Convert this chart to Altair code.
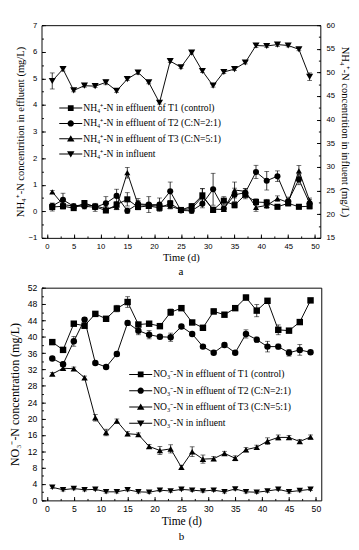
import altair as alt
import pandas as pd

days = [1, 3, 5, 7, 9, 11, 13, 15, 17, 19, 21, 23, 25, 27, 29, 31, 33, 35, 37, 39, 41, 43, 45, 47, 49]

# ---------- panel a (NH4+-N) ----------
a_names = ["T1", "T2", "T3"]
a_t1 = [0.16, 0.19, 0.12, 0.31, 0.17, 0.03, 0.25, 0.45, 0.16, 0.20, 0.13, 0.29, 0.05,
        0.19, 0.60, 0.05, 0.40, 0.23, 0.62, 0.35, 0.33, 0.17, 0.30, 0.17, 0.19]
a_t2 = [0.20, 0.43, 0.19, 0.19, 0.15, 0.30, 0.58, 0.02, 0.28, 0.25, 0.25, 0.75, 0.03,
        0.02, 0.28, 0.83, 0.10, 0.62, 0.70, 1.48, 1.15, 1.32, 0.38, 1.20, 0.30]
a_t3 = [0.73, 0.25, 0.20, 0.25, 0.20, 0.10, 0.16, 1.45, 0.25, 0.22, 0.20, 0.19, 0.06,
        0.10, 0.55, 0.08, 0.07, 0.80, 0.75, 0.15, 0.22, 0.48, 0.33, 1.52, 0.40]
a_t1_err = [0.15, 0.10, 0.08, 0.10, 0.08, 0.08, 0.12, 0.25, 0.10, 0.10, 0.10, 0.12, 0.06,
            0.10, 0.25, 0.10, 0.15, 0.10, 0.15, 0.12, 0.12, 0.08, 0.10, 0.08, 0.10]
a_t2_err = [0.10, 0.25, 0.08, 0.10, 0.15, 0.25, 0.25, 0.10, 0.20, 0.30, 0.25, 0.35, 0.05,
            0.10, 0.15, 0.60, 0.10, 0.25, 0.15, 0.25, 0.35, 0.20, 0.15, 0.20, 0.15]
a_t3_err = [0.05, 0.10, 0.08, 0.10, 0.08, 0.08, 0.10, 0.20, 0.15, 0.10, 0.10, 0.10, 0.05,
            0.08, 0.30, 0.08, 0.08, 0.30, 0.10, 0.15, 0.12, 0.10, 0.10, 0.20, 0.10]
a_inf = [48.2, 50.7, 46.2, 47.2, 47.1, 47.9, 46.1, 48.6, 50.0, 47.9, 43.6, 52.4, 51.1,
         54.2, 50.3, 47.2, 50.1, 50.7, 52.1, 55.7, 55.6, 55.9, 55.7, 54.9, 49.1]
a_inf_err = [1.7, 0.4, 0.3, 0.3, 0.3, 0.5, 0.3, 0.3, 0.4, 0.3, 0.3, 0.3, 0.3,
             0.3, 0.3, 0.3, 0.3, 0.3, 0.3, 0.4, 0.3, 0.4, 0.3, 0.3, 0.8]
a_legend = ["NH\u2084\u207a-N in effluent of T1 (control)",
            "NH\u2084\u207a-N in effluent of T2 (C:N=2:1)",
            "NH\u2084\u207a-N in effluent of T3 (C:N=5:1)",
            "NH\u2084\u207a-N in influent"]

# ---------- panel b (NO3--N) ----------
b_names = ["T1", "T2", "T3", "INF"]
b_t1 = [38.7, 36.8, 43.2, 42.7, 45.6, 44.4, 46.9, 48.5, 43.0, 43.2, 42.6, 46.0, 47.0,
        43.5, 42.2, 46.2, 45.4, 47.0, 49.6, 46.4, 48.8, 41.7, 41.5, 43.6, 48.9]
b_t2 = [34.7, 33.3, 38.9, 44.2, 33.6, 32.6, 35.8, 43.4, 41.5, 40.5, 40.0, 39.9, 42.5,
        40.7, 37.6, 36.1, 38.0, 36.1, 40.7, 39.3, 37.6, 37.6, 36.1, 36.8, 36.2]
b_t3 = [30.9, 32.3, 32.2, 30.0, 20.2, 16.6, 19.4, 16.3, 16.1, 13.2, 12.2, 12.6, 8.1,
        11.9, 10.1, 10.2, 11.5, 10.3, 12.4, 13.0, 14.5, 15.4, 15.4, 14.4, 15.5]
b_inf = [3.2, 2.6, 2.9, 2.6, 2.7, 2.1, 2.1, 2.6, 2.1, 2.0, 2.5, 2.3, 2.7,
         2.5, 2.3, 2.5, 2.1, 2.8, 2.1, 2.0, 2.3, 2.7, 2.1, 2.4, 2.7]
b_t1_err = [0.4, 0.4, 0.5, 0.5, 0.4, 0.4, 0.8, 1.3, 0.5, 0.4, 0.4, 0.8, 0.4,
            0.4, 0.4, 0.6, 0.4, 0.5, 0.6, 1.5, 0.5, 1.2, 0.4, 0.5, 0.4]
b_t2_err = [0.4, 0.5, 1.2, 0.5, 0.4, 0.4, 0.5, 0.5, 1.0, 1.0, 0.5, 1.0, 0.4,
            0.4, 0.4, 0.4, 0.5, 0.4, 1.0, 0.6, 1.3, 0.6, 0.8, 1.3, 0.4]
b_t3_err = [0.4, 0.4, 0.4, 0.4, 0.8, 0.8, 0.5, 0.5, 0.4, 0.5, 1.0, 1.0, 0.5,
            1.2, 1.0, 0.5, 0.5, 0.6, 0.5, 0.5, 0.8, 0.6, 0.5, 0.5, 0.5]
b_inf_err = [0.3, 0.3, 0.3, 0.3, 0.3, 0.3, 0.3, 0.3, 0.3, 0.3, 0.3, 0.3, 0.3,
             0.3, 0.3, 0.3, 0.3, 0.3, 0.3, 0.3, 0.3, 0.3, 0.3, 0.3, 0.3]
b_legend = ["NO\u2083\u207b-N in effluent of T1 (control)",
            "NO\u2083\u207b-N in effluent of T2 (C:N=2:1)",
            "NO\u2083\u207b-N in effluent of T3 (C:N=5:1)",
            "NO\u2083\u207b-N in influent"]

# axis tick positions
x_major = [0, 5, 10, 15, 20, 25, 30, 35, 40, 45, 50]
x_minor = [i * 2.5 for i in range(21)]
ya_major = [-1, 0, 1, 2, 3, 4, 5, 6, 7]
ya_minor = [-1 + 0.5 * i for i in range(17)]
yr_major = [15, 20, 25, 30, 35, 40, 45, 50, 55, 60]
yr_minor = [15 + 2.5 * i for i in range(19)]
yb_major = [4 * i for i in range(14)]
yb_minor = [2 * i for i in range(27)]


def long_df(names, vals, errs):
    rows = []
    for n, vs, es in zip(names, vals, errs):
        for d, v, e in zip(days, vs, es):
            rows.append({"day": d, "series": n, "value": v, "err": e})
    return pd.DataFrame(rows)


df_a = long_df(a_names, [a_t1, a_t2, a_t3], [a_t1_err, a_t2_err, a_t3_err])
df_ainf = long_df(["INF"], [a_inf], [a_inf_err])
df_b = long_df(b_names, [b_t1, b_t2, b_t3, b_inf], [b_t1_err, b_t2_err, b_t3_err, b_inf_err])

SERIF = "Liberation Serif"
SANS = "Liberation Sans"


def major_axis(values, title, orient, lp, tp, lfs=8, tfs=11):
    # inward ticks: shift the axis 4px into the plot and draw 4px ticks back to the frame
    return alt.Axis(values=values, format="d", offset=-4, tickSize=4, tickColor="black",
                    tickWidth=1, domain=False, grid=False, labelOverlap=False, orient=orient,
                    labelFont=SANS, labelFontSize=lfs, labelColor="black", labelPadding=lp,
                    title=title, titleFont=SERIF, titleFontSize=tfs, titleFontWeight="normal",
                    titleColor="black", titlePadding=tp)


def minor_axis(values, orient):
    return alt.Axis(values=values, offset=-2, tickSize=2, tickColor="black", tickWidth=1,
                    domain=False, grid=False, labels=False, title=None, orient=orient)


xscale = alt.Scale(domain=[-1, 51], nice=False, zero=False)


def make_panel(df, names, shapes, sizes, yscale, yaxis, xaxis, yminor, xminor):
    base = alt.Chart(df).transform_calculate(lo="datum.value - datum.err",
                                             hi="datum.value + datum.err")
    X0 = alt.X("day:Q", scale=xscale, axis=None)
    lines = base.mark_line(color="black", strokeWidth=1).encode(
        x=alt.X("day:Q", scale=xscale, axis=xaxis),
        y=alt.Y("value:Q", scale=yscale, axis=yaxis),
        detail="series:N")
    rules = base.mark_rule(color="black", strokeWidth=0.8).encode(
        x=X0, y=alt.Y("lo:Q", scale=yscale, axis=None), y2="hi:Q")
    cap_hi = base.mark_tick(color="black", orient="horizontal", size=5, thickness=0.8).encode(
        x=X0, y=alt.Y("hi:Q", scale=yscale, axis=None))
    cap_lo = base.mark_tick(color="black", orient="horizontal", size=5, thickness=0.8).encode(
        x=X0, y=alt.Y("lo:Q", scale=yscale, axis=None))
    if len(names) == 1:
        pts = base.mark_point(filled=True, opacity=1, color="black", shape=shapes[0],
                              size=sizes[0]).encode(
            x=X0, y=alt.Y("value:Q", scale=yscale, axis=None))
    else:
        pts = base.mark_point(filled=True, opacity=1, color="black").encode(
            x=X0, y=alt.Y("value:Q", scale=yscale, axis=None),
            shape=alt.Shape("series:N", scale=alt.Scale(domain=names, range=shapes), legend=None),
            size=alt.Size("series:N", scale=alt.Scale(domain=names, range=sizes), legend=None))
    minor = base.mark_point(opacity=0, size=1).encode(
        x=alt.X("day:Q", scale=xscale, axis=xminor),
        y=alt.Y("value:Q", scale=yscale, axis=yminor))
    res = {"y": "independent"}
    if xminor is not None:
        res["x"] = "independent"
    return alt.layer(lines, rules, cap_hi, cap_lo, pts, minor).resolve_axis(**res)


# legend symbols: line segment + marker, all filled, same winding
LINE = "M-1.6,-0.07L1.6,-0.07L1.6,0.07L-1.6,0.07Z"
P_SQ = LINE + "M-0.4,-0.4L0.4,-0.4L0.4,0.4L-0.4,0.4Z"
P_CI = LINE + "M-0.44,0A0.44,0.44,0,1,1,0.44,0A0.44,0.44,0,1,1,-0.44,0Z"
P_TU = LINE + "M0,-0.48L0.52,0.4L-0.52,0.4Z"
P_TD = LINE + "M0,0.48L-0.52,-0.4L0.52,-0.4Z"
legend_paths = [P_SQ, P_CI, P_TU, P_TD]


def legend_layer(labels, lx, ly, rowpad):
    df = pd.DataFrame({"label": labels})
    return alt.Chart(df).mark_point(filled=True, opacity=0, color="black", size=1).encode(
        shape=alt.Shape("label:N", sort=labels,
                        scale=alt.Scale(domain=labels, range=legend_paths),
                        legend=alt.Legend(title=None, orient="none", legendX=lx, legendY=ly,
                                          symbolSize=225, symbolStrokeWidth=0,
                                          symbolFillColor="black", symbolOpacity=1,
                                          labelFont=SERIF, labelFontSize=10,
                                          labelColor="black", labelOffset=5.5, rowPadding=rowpad,
                                          padding=0, labelLimit=400)))


def caption(t, off):
    return alt.TitleParams(t, orient="bottom", font=SERIF, fontSize=11.5, fontWeight="normal",
                           color="black", frame="group", anchor="middle", offset=off)


# ----- chart a -----
ya_scale = alt.Scale(domain=[-1, 7], nice=False, zero=False)
yr_scale = alt.Scale(domain=[15, 60], nice=False, zero=False)

left_a = make_panel(df_a, a_names, ["square", "circle", "triangle-up"], [40, 40, 55],
                    ya_scale,
                    major_axis(ya_major, "NH\u2084\u207a-N concentrition in effluent (mg/L)", "left", 5, 3),
                    major_axis(x_major, "Time (d)", "bottom", 5, 2),
                    minor_axis(ya_minor, "left"), minor_axis(x_minor, "bottom"))
right_a = make_panel(df_ainf, ["INF"], ["triangle-down"], [55], yr_scale,
                     major_axis(yr_major, "NH\u2084\u207a-N concentrition in influent (mg/L)", "right", 6, 5),
                     None, minor_axis(yr_minor, "right"), None)

chart_a = alt.layer(left_a, right_a, legend_layer(a_legend, 23, 79, 3)).resolve_scale(
    y="independent", shape="independent", size="independent").properties(
    width=291, height=222, title=caption("a", 4))

# ----- chart b -----
yb_scale = alt.Scale(domain=[0, 52], nice=False, zero=False)
panel_b = make_panel(df_b, b_names, ["square", "circle", "triangle-up", "triangle-down"],
                     [45, 45, 60, 60], yb_scale,
                     major_axis(yb_major, "NO\u2083\u207b-N concentration (mg/L)", "left", 5, 6, 9, 12.5),
                     major_axis(x_major, "Time (d)", "bottom", 5, 2, 9, 12),
                     minor_axis(yb_minor, "left"), minor_axis(x_minor, "bottom"))
chart_b = alt.layer(panel_b, legend_layer(b_legend, 96, 83, 4)).resolve_scale(
    shape="independent", size="independent").properties(
    width=292, height=222, title=caption("b", 5))

chart = alt.ConcatChart(concat=[chart_a, chart_b], columns=1, align="none", spacing=5).properties(
    padding={"left": 0, "top": 1, "right": 0, "bottom": 0},
    background="white").configure_view(stroke="black", strokeWidth=1)

chart.save("out.html", embed_options={"renderer": "svg", "actions": False})
